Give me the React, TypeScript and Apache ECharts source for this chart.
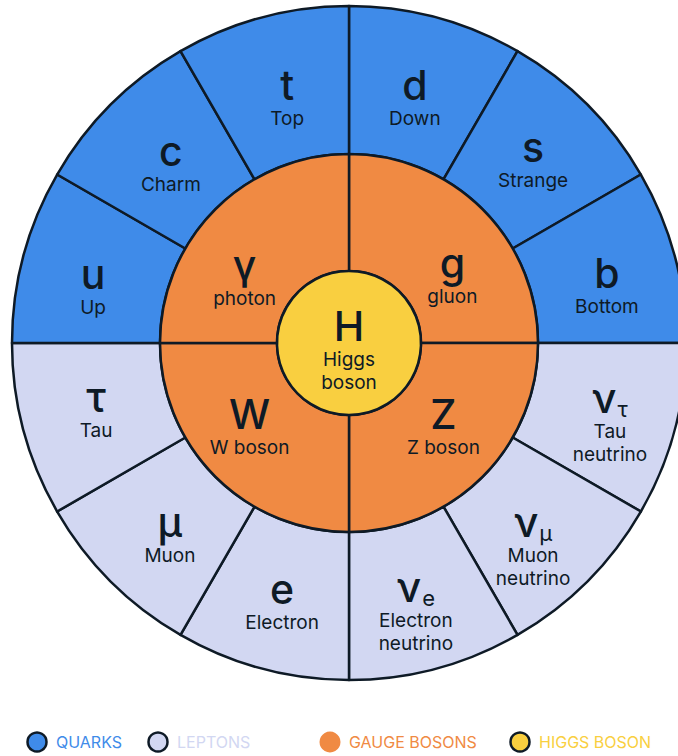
import React, { useEffect, useRef } from "react";
import * as echarts from "echarts";

// ---- data ----
const outerSymbols = ["d", "s", "b", "ν", "ν", "ν", "e", "μ", "τ", "u", "c", "t"];
const outerSubs = ["", "", "", "τ", "μ", "e", "", "", "", "", "", ""];
const outerNames = ["Down", "Strange", "Bottom", "Tau\nneutrino", "Muon\nneutrino", "Electron\nneutrino", "Electron", "Muon", "Tau", "Up", "Charm", "Top"];
const outerKinds = ["quark", "quark", "quark", "lepton", "lepton", "lepton", "lepton", "lepton", "lepton", "quark", "quark", "quark"];

const bosonSymbols = ["g", "Z", "W", "γ"];
const bosonNames = ["gluon", "Z boson", "W boson", "photon"];

const higgsSymbol = "H";
const higgsName = "Higgs\nboson";

const legendNames = ["QUARKS", "LEPTONS", "GAUGE BOSONS", "HIGGS BOSON"];

// ---- styles ----
const COLORS: Record<string, string> = {
  quark: "#3F8BE9",
  lepton: "#D2D7F2",
  gauge: "#F08A43",
  higgs: "#F9CF40",
};
const LINE = "#0E1A26";
const FONT = "Inter";

// label nudges (layout only)
const outerNudge: [number, number][] = [
  [-3, 10], [-4, 4], [1, 10], [4, 9], [-4, 14], [-2, 10],
  [2, 1], [9, 2], [4, -3], [1, 11], [10, 8], [7, 10],
];
const bosonNudge: [number, number][] = [[9, 26], [0, -12], [-5, -12], [-10, 28]];

const rich = {
  sym: { fontFamily: FONT, fontSize: 41, fontWeight: 500, color: LINE, lineHeight: 44 },
  sub: { fontFamily: FONT, fontSize: 22, fontWeight: 400, color: LINE, lineHeight: 44, verticalAlign: "bottom", padding: [12, 0, 0, 1] },
  name: { fontFamily: FONT, fontSize: 19, fontWeight: 400, color: LINE, lineHeight: 23 },
};

function labelText(sym: string, sub: string, name: string) {
  const first = `{sym|${sym}}` + (sub ? `{sub|${sub}}` : "");
  return [first, ...name.split("\n").map((l) => `{name|${l}}`)].join("\n");
}

export default function App() {
  const ref = useRef<HTMLDivElement>(null);
  useEffect(() => {
    document.body.style.margin = "0";
    document.body.style.overflow = "hidden";
    const chart = echarts.init(ref.current!, null, { renderer: "svg" });
    const cx = 349;
    const cy = 343;
    const rOuter = 337;
    const rMid = 189;
    const rInner = 72;

    const outerData = outerSymbols.map((s, i) => ({
      value: 1,
      name: outerNames[i].replace("\n", " "),
      itemStyle: { color: COLORS[outerKinds[i]] },
      label: { formatter: labelText(s, outerSubs[i], outerNames[i]) },
    }));
    const bosonData = bosonSymbols.map((s, i) => ({
      value: 1,
      name: bosonNames[i],
      itemStyle: { color: COLORS.gauge },
      label: { formatter: labelText(s, "", bosonNames[i]) },
    }));

    const common = {
      type: "pie",
      center: [cx, cy],
      startAngle: 90,
      clockwise: true,
      silent: true,
      avoidLabelOverlap: false,
      labelLine: { show: false },
      emphasis: { disabled: true },
      itemStyle: { borderColor: LINE, borderWidth: 2.5 },
    };

    const legendX = [37, 158, 330, 520];
    const legendY = 742;
    const legendKinds = ["quark", "lepton", "gauge", "higgs"];
    const legendBorder = [true, true, false, true];
    const graphic: any[] = [];
    legendNames.forEach((n, i) => {
      graphic.push({
        type: "circle",
        shape: { cx: legendX[i], cy: legendY, r: legendBorder[i] ? 9.5 : 10.5 },
        style: {
          fill: COLORS[legendKinds[i]],
          stroke: legendBorder[i] ? LINE : null,
          lineWidth: legendBorder[i] ? 2.5 : 0,
        },
      });
      graphic.push({
        type: "text",
        x: legendX[i] + 19,
        y: legendY,
        style: {
          text: n,
          fill: COLORS[legendKinds[i]],
          fontFamily: FONT,
          fontSize: 16,
          fontWeight: 400,
          verticalAlign: "middle",
        },
      });
    });

    chart.setOption({
      animation: false,
      series: [
        {
          ...common,
          radius: [rMid, rOuter],
          label: { show: true, position: "inside", rich },
          labelLayout: (p: any) => ({ dx: outerNudge[p.dataIndex][0], dy: outerNudge[p.dataIndex][1] }),
          data: outerData,
        },
        {
          ...common,
          radius: [rInner, rMid],
          label: { show: true, position: "inside", rich },
          labelLayout: (p: any) => ({ dx: bosonNudge[p.dataIndex][0], dy: bosonNudge[p.dataIndex][1] }),
          data: bosonData,
        },
        {
          ...common,
          radius: [0, rInner],
          itemStyle: { color: COLORS.higgs, borderColor: LINE, borderWidth: 2.5 },
          label: { show: true, position: "center", rich, formatter: labelText(higgsSymbol, "", higgsName) },
          labelLayout: () => ({ dy: 6 }),
          data: [{ value: 1, name: "Higgs boson" }],
        },
      ],
      graphic,
    });
    return () => chart.dispose();
  }, []);
  return <div ref={ref} style={{ width: 678, height: 756 }} />;
}
